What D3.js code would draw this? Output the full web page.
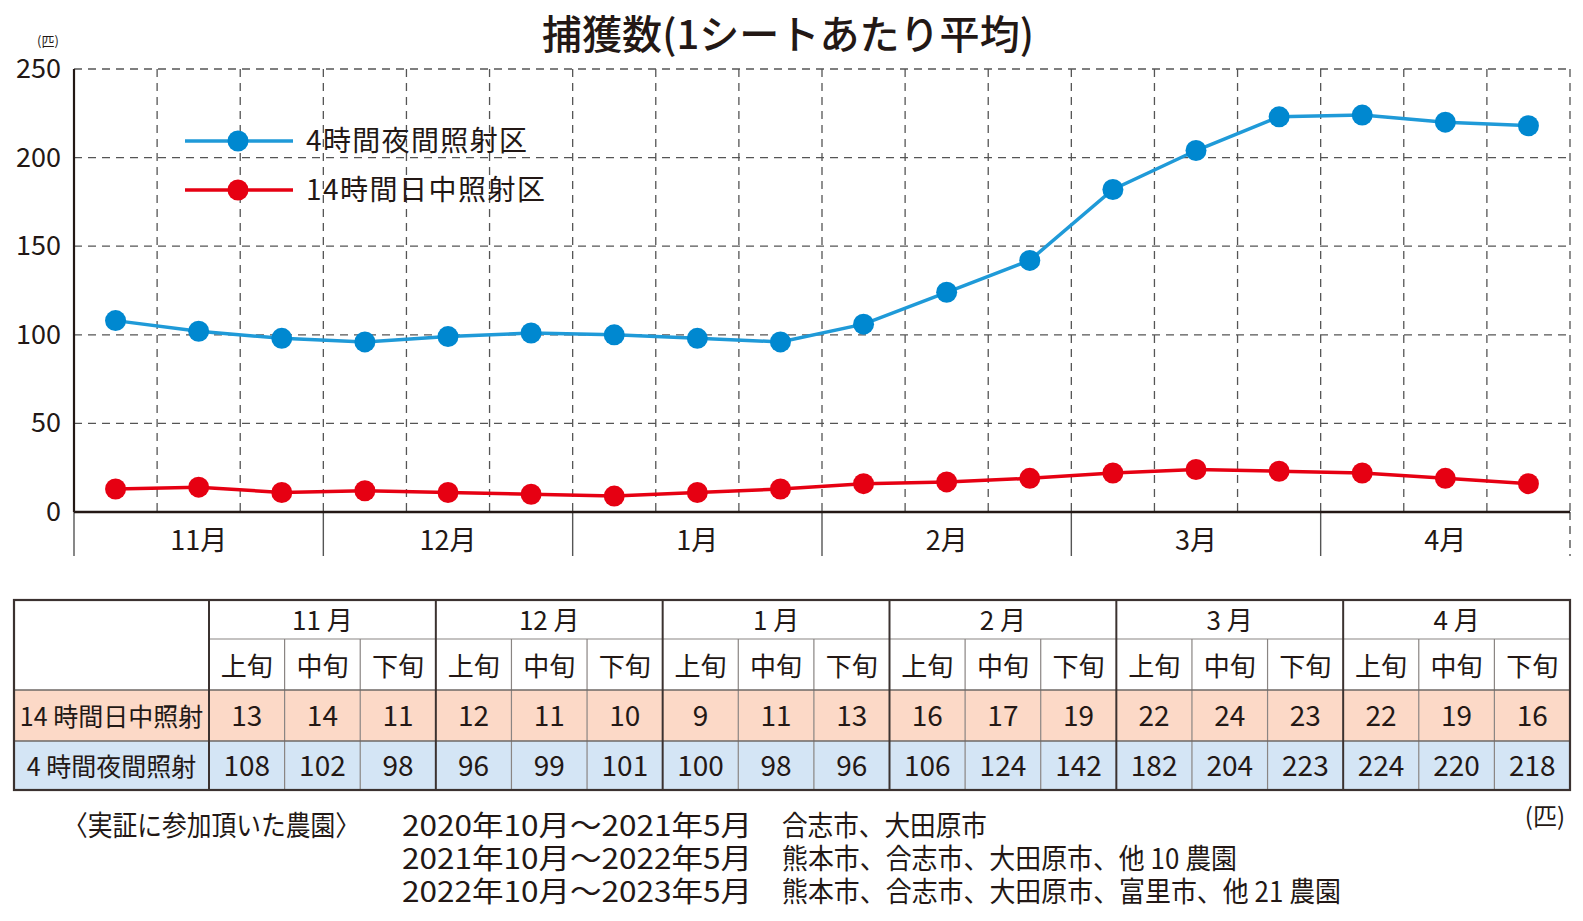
<!DOCTYPE html>
<html><head><meta charset="utf-8">
<script src="https://cdn.jsdelivr.net/npm/d3@7"></script>
<style>
body{margin:0;background:#fff;}
svg{display:block;font-family:"Noto Sans CJK JP","Noto Sans",sans-serif;}
</style></head>
<body><svg id="c" width="1583" height="921"></svg>
<script>
const months = ["11月","12月","1月","2月","3月","4月"];
const tableMonths = ["11 月","12 月","1 月","2 月","3 月","4 月"];
const periods = ["上旬","中旬","下旬"];
const nightLabel = "4時間夜間照射区";
const dayLabel = "14時間日中照射区";
const nightRow = "4 時間夜間照射";
const dayRow = "14 時間日中照射";
const nightValues = [108,102,98,96,99,101,100,98,96,106,124,142,182,204,223,224,220,218];
const dayValues = [13,14,11,12,11,10,9,11,13,16,17,19,22,24,23,22,19,16];
const yTicks = [0,50,100,150,200,250];
const notesHead = "〈実証に参加頂いた農園〉";
const notePeriods = ["2020年10月〜2021年5月","2021年10月〜2022年5月","2022年10月〜2023年5月"];
const noteFarms = ["合志市、大田原市","熊本市、合志市、大田原市、他 10 農園","熊本市、合志市、大田原市、富里市、他 21 農園"];

const svg = d3.select("#c");
const blue = "#0088d0", blueLine = "#1f9ad8", red = "#e60012";
const X0 = 74, X1 = 1570, Y0 = 512, YT = 69;
const idx = d3.range(nightValues.length);
const x = d3.scaleBand().domain(idx).range([X0, X1]).padding(0);
const cx = i => x(i) + x.bandwidth()/2;
const y = d3.scaleLinear().domain([0,250]).range([Y0, YT]);

// title
svg.append("text").attr("x", 788).attr("y", 49).attr("text-anchor","middle")
  .attr("font-size", 40).attr("font-weight", 500).attr("fill","#231815")
  .attr("textLength", 492).attr("lengthAdjust","spacingAndGlyphs")
  .text("捕獲数(1シートあたり平均)");
svg.append("text").attr("x", 48).attr("y", 46).attr("text-anchor","middle")
  .attr("font-size", 13).attr("fill","#231815").text("(匹)");

// horizontal grid
const g = svg.append("g");
g.selectAll("line.h").data(yTicks.filter(d=>d>0)).join("line")
  .attr("x1", X0).attr("x2", X1).attr("y1", d=>y(d)).attr("y2", d=>y(d))
  .attr("stroke","#555").attr("stroke-width",1.3).attr("stroke-dasharray","8,6");
// vertical grid
const bounds = d3.range(1, nightValues.length+1);
g.selectAll("line.v").data(bounds).join("line")
  .attr("x1", d=> d===nightValues.length ? X1 : x(d)).attr("x2", d=> d===nightValues.length ? X1 : x(d))
  .attr("y1", YT).attr("y2", Y0)
  .attr("stroke","#555").attr("stroke-width",1.3).attr("stroke-dasharray","8,6");
// month ticks below
const monthB = d3.range(0, nightValues.length+1, 3);
g.selectAll("line.m").data(monthB).join("line")
  .attr("x1", d=> d===nightValues.length ? X1 : x(d)).attr("x2", d=> d===nightValues.length ? X1 : x(d))
  .attr("y1", Y0).attr("y2", 556)
  .attr("stroke","#555").attr("stroke-width",1.4)
  .attr("stroke-dasharray", d=> d===nightValues.length ? "8,6" : null);
// axes
svg.append("line").attr("x1",X0).attr("x2",X0).attr("y1",YT).attr("y2",Y0).attr("stroke","#231815").attr("stroke-width",2.2);
svg.append("line").attr("x1",X0).attr("x2",X1).attr("y1",Y0).attr("y2",Y0).attr("stroke","#231815").attr("stroke-width",2.5);

// y labels
svg.selectAll("text.yl").data(yTicks).join("text")
  .attr("x", 61).attr("y", d=>y(d)+9).attr("text-anchor","end")
  .attr("font-size", 27).attr("fill","#231815").text(d=>d);
// month labels
svg.selectAll("text.ml").data(months).join("text")
  .attr("x", (d,i)=> (x(i*3) + (i*3+3===nightValues.length?X1:x(i*3+3)))/2).attr("y", 550)
  .attr("text-anchor","middle").attr("font-size", 27).attr("fill","#231815").text(d=>d);

// lines
const line = d3.line().x((d,i)=>cx(i)).y(d=>y(d));
function series(vals, lc, mc){
  svg.append("path").datum(vals).attr("d", line).attr("fill","none")
    .attr("stroke", lc).attr("stroke-width", 3.5);
  svg.append("g").selectAll("circle").data(vals).join("circle")
    .attr("cx",(d,i)=>cx(i)).attr("cy",d=>y(d)).attr("r",10.5).attr("fill",mc);
}
series(nightValues, blueLine, blue);
series(dayValues, red, red);

// legend
const leg = [{t:nightLabel, lc:blueLine, mc:blue, y:141, w:221},{t:dayLabel, lc:red, mc:red, y:190, w:239}];
leg.forEach(l=>{
  svg.append("line").attr("x1",185).attr("x2",293).attr("y1",l.y).attr("y2",l.y).attr("stroke",l.lc).attr("stroke-width",3.5);
  svg.append("circle").attr("cx",238).attr("cy",l.y).attr("r",10.5).attr("fill",l.mc);
  svg.append("text").attr("x",306).attr("y",l.y+10).attr("font-size",28).attr("fill","#231815")
    .attr("textLength", l.w).attr("lengthAdjust","spacing").text(l.t);
});

// table
const TL = 14, TC = 209, TR = 1570;
const rows = [600, 639, 690, 741, 790];
const tx = d3.scaleBand().domain(idx).range([TC, TR]).padding(0);
const tcx = i => tx(i) + tx.bandwidth()/2;
const T = svg.append("g");
T.append("rect").attr("x",TL).attr("y",rows[2]).attr("width",TR-TL).attr("height",rows[3]-rows[2]).attr("fill","#fcd9c7");
T.append("rect").attr("x",TL).attr("y",rows[3]).attr("width",TR-TL).attr("height",rows[4]-rows[3]).attr("fill","#d4e5f5");
// sub-column lines
T.selectAll("line.sc").data(idx.filter(i=>i%3!==0)).join("line")
  .attr("x1",i=>tx(i)).attr("x2",i=>tx(i)).attr("y1",rows[1]).attr("y2",rows[4])
  .attr("stroke","#8a8583").attr("stroke-width",1.2);
// header inner row line
T.append("line").attr("x1",TC).attr("x2",TR).attr("y1",rows[1]).attr("y2",rows[1]).attr("stroke","#8a8583").attr("stroke-width",1.2);
[rows[2],rows[3]].forEach(r=>T.append("line").attr("x1",TL).attr("x2",TR).attr("y1",r).attr("y2",r).attr("stroke","#6e6866").attr("stroke-width",1.3));
// month lines
T.selectAll("line.mc").data(d3.range(0,18,3)).join("line")
  .attr("x1",i=>tx(i)).attr("x2",i=>tx(i)).attr("y1",rows[0]).attr("y2",rows[4])
  .attr("stroke","#3b3230").attr("stroke-width",2);
T.append("rect").attr("x",TL).attr("y",rows[0]).attr("width",TR-TL).attr("height",rows[4]-rows[0])
  .attr("fill","none").attr("stroke","#3b3230").attr("stroke-width",2.2);
// texts
T.selectAll("text.tm").data(tableMonths).join("text")
  .attr("x",(d,i)=>tx(i*3)+tx.bandwidth()*1.5).attr("y",rows[1]-9).attr("text-anchor","middle")
  .attr("font-size",26).attr("fill","#231815").text(d=>d);
T.selectAll("text.tp").data(idx).join("text")
  .attr("x",i=>tcx(i)).attr("y",rows[2]-14).attr("text-anchor","middle")
  .attr("font-size",26).attr("fill","#231815").text(i=>periods[i%3]);
T.selectAll("text.td").data(dayValues).join("text")
  .attr("x",(d,i)=>tcx(i)).attr("y",rows[3]-15).attr("text-anchor","middle")
  .attr("font-size",28).attr("fill","#231815").text(d=>d);
T.selectAll("text.tn").data(nightValues).join("text")
  .attr("x",(d,i)=>tcx(i)).attr("y",rows[4]-14).attr("text-anchor","middle")
  .attr("font-size",28).attr("fill","#231815").text(d=>d);
T.append("text").attr("x",(TL+TC)/2).attr("y",rows[3]-15).attr("text-anchor","middle").attr("font-size",25).attr("fill","#231815").text(dayRow);
T.append("text").attr("x",(TL+TC)/2).attr("y",rows[4]-14).attr("text-anchor","middle").attr("font-size",25).attr("fill","#231815").text(nightRow);

// notes
svg.append("text").attr("x",1565).attr("y",825).attr("text-anchor","end").attr("font-size",24).attr("fill","#231815").text("(匹)");
svg.append("text").attr("x",63).attr("y",836).attr("font-size",28).attr("fill","#231815")
  .attr("textLength",297).attr("lengthAdjust","spacingAndGlyphs").text(notesHead);
notePeriods.forEach((p,i)=>{
  svg.append("text").attr("x",402).attr("y",836+i*33).attr("font-size",28).attr("fill","#231815")
    .attr("textLength",350).attr("lengthAdjust","spacingAndGlyphs").text(p);
  svg.append("text").attr("x",782).attr("y",836+i*33).attr("font-size",28).attr("fill","#231815")
    .attr("textLength",[205,455,559][i]).attr("lengthAdjust","spacingAndGlyphs").text(noteFarms[i]);
});
</script></body></html>
